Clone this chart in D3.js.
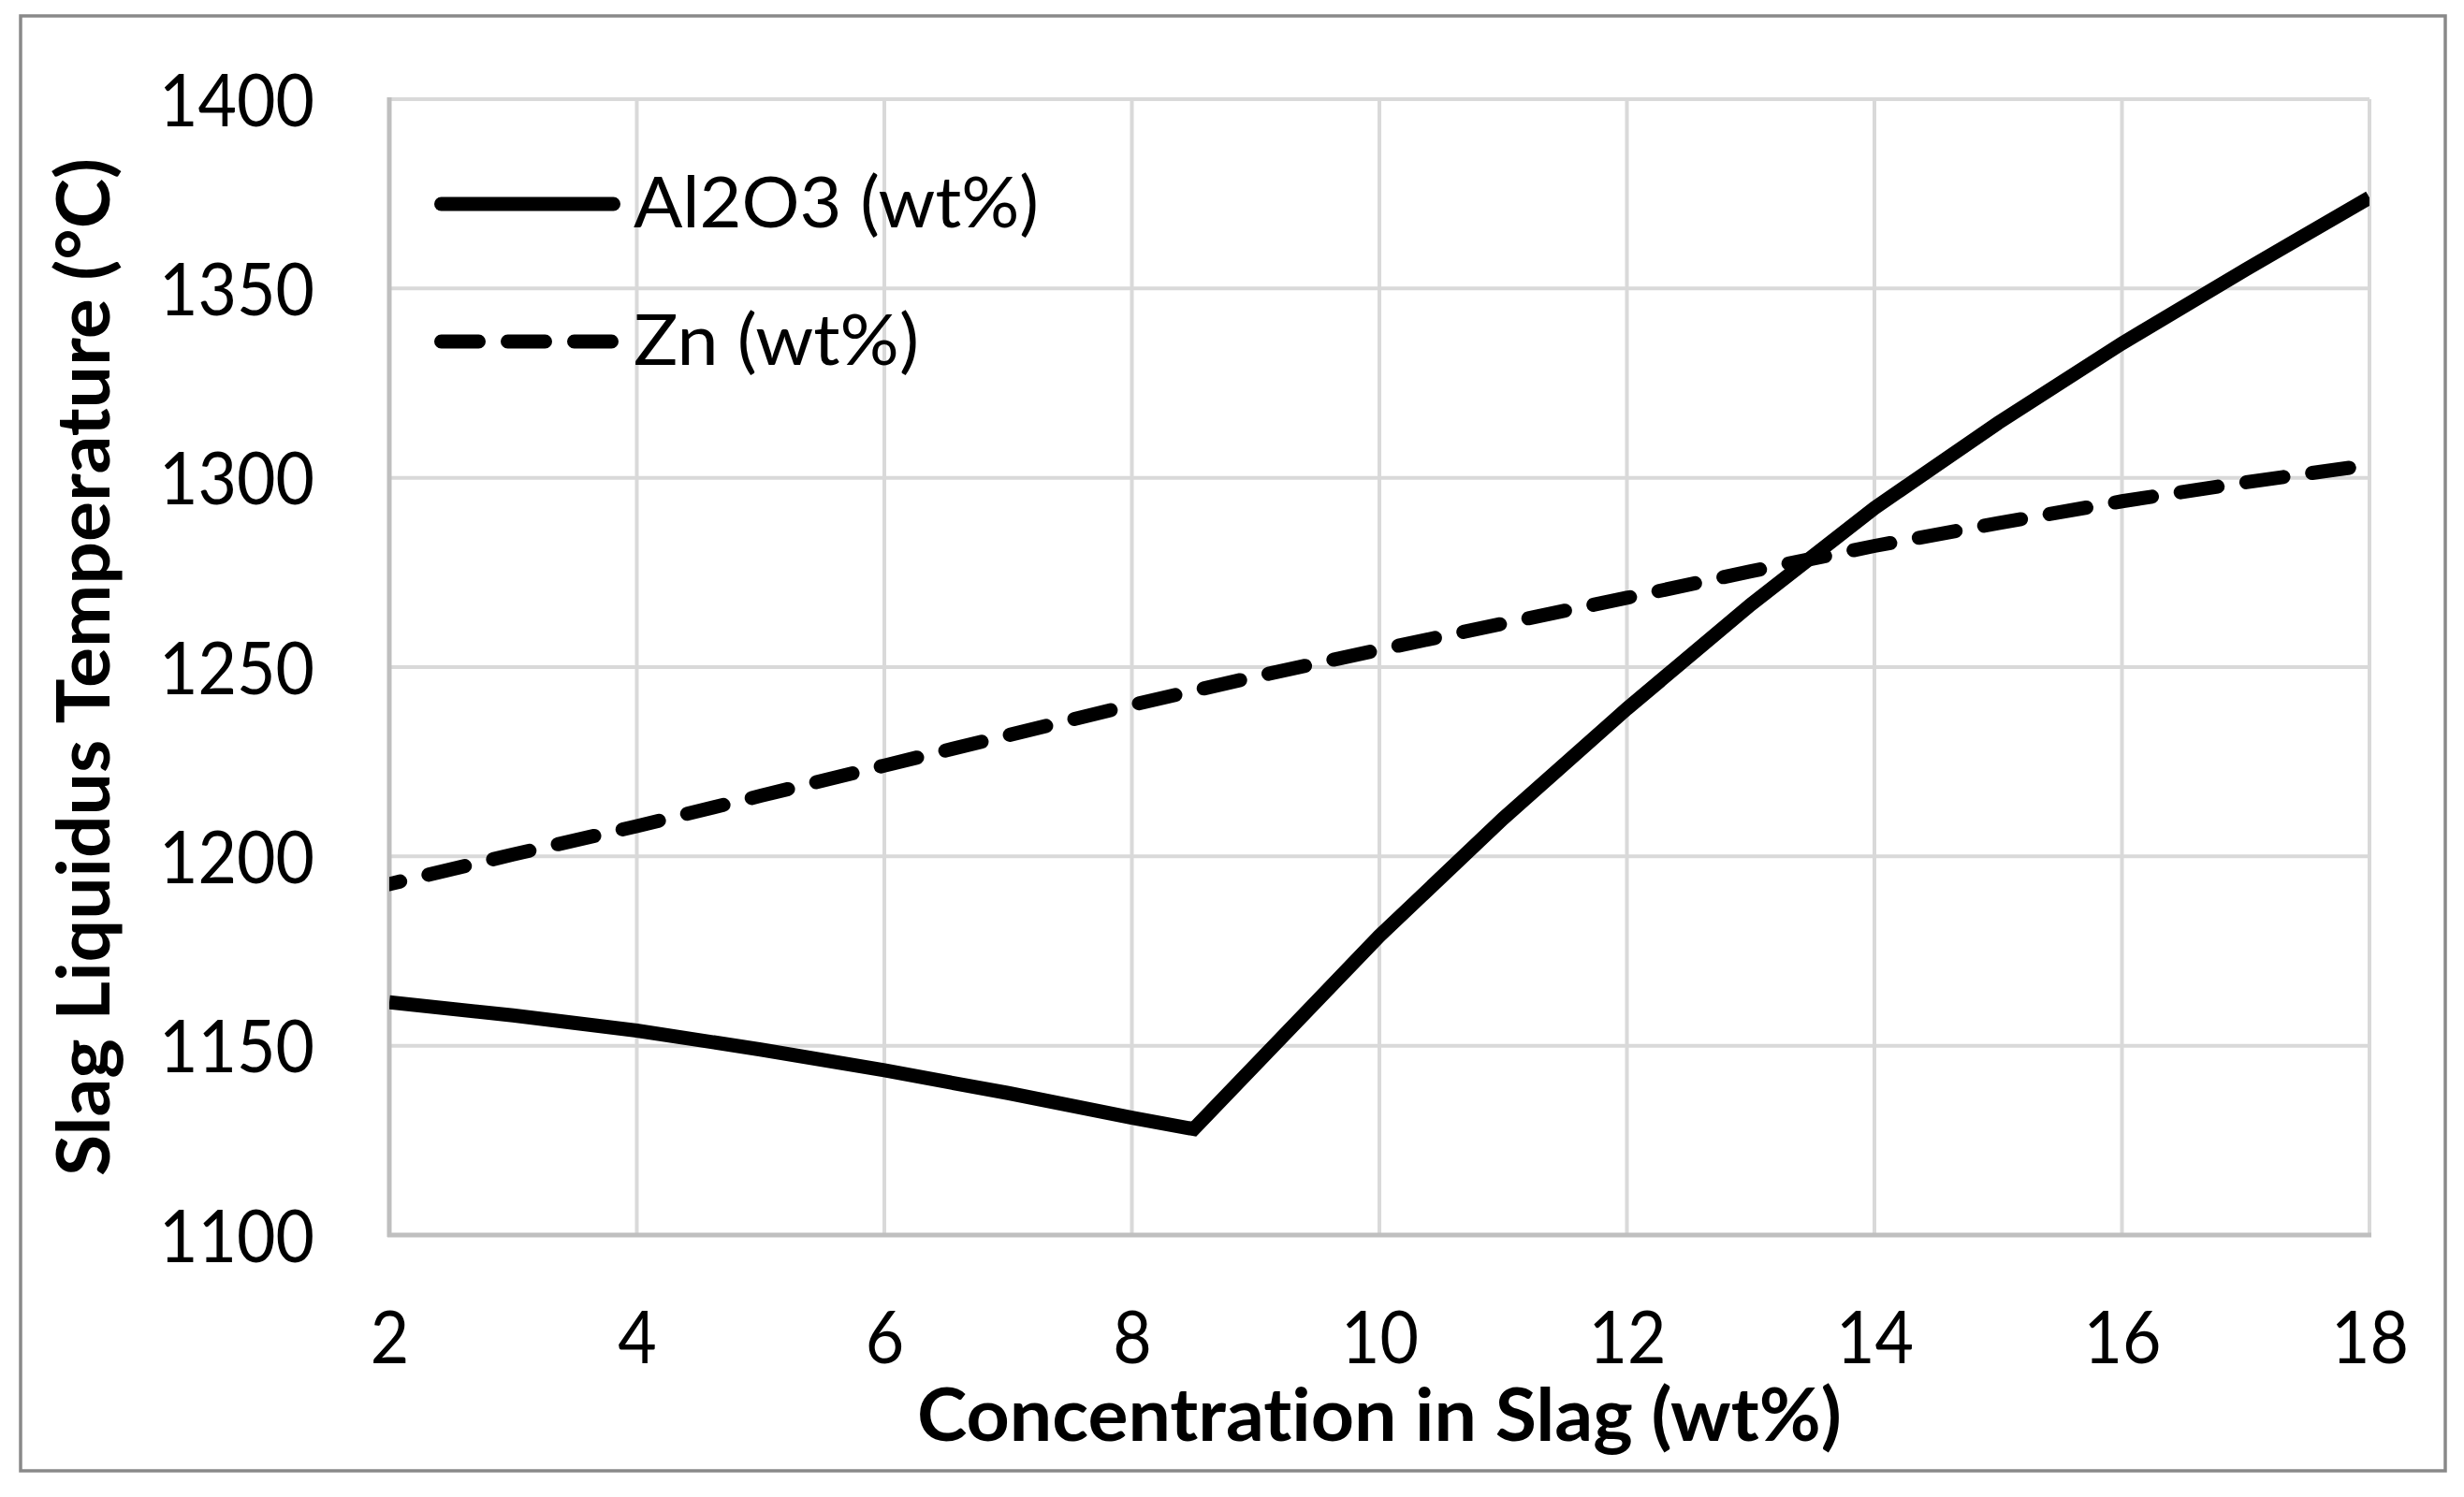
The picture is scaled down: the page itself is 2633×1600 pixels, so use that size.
<!DOCTYPE html>
<html>
<head>
<meta charset="utf-8">
<script src="https://cdn.jsdelivr.net/npm/d3@7/dist/d3.min.js"></script>
<style>
    body { margin: 0; background: #ffffff; }
    svg { display: block; }
    text { font-variant-ligatures: none; }
</style>
</head>
<body>
<svg id="chart" width="2633" height="1600"></svg>
<script>
// concentration (wt%) and liquidus temperature (°C)
const AL2O3_X = [2, 3, 4, 5, 6, 7, 8, 8.5, 9, 9.5, 10, 11, 12, 13, 14, 15, 16, 17, 18];
const AL2O3_T = [1161.5, 1158, 1154, 1149, 1143.5, 1137.5, 1131, 1128, 1145, 1162, 1179, 1210, 1239, 1266.5, 1292, 1314.5, 1335.5, 1355, 1374];
const ZN_X = [2, 3, 4, 5, 6, 7, 8, 9, 10, 11, 12, 13, 14, 15, 16, 17, 18];
const ZN_T = [1192.7, 1200.5, 1208, 1216, 1224, 1232, 1240, 1247.5, 1254.6, 1261.5, 1268.3, 1275.3, 1282, 1288, 1293.8, 1298.8, 1303.4];

const X_TICKS = [2, 4, 6, 8, 10, 12, 14, 16, 18];
const Y_TICKS = [1100, 1150, 1200, 1250, 1300, 1350, 1400];
const SERIES_NAMES = ["Al2O3 (wt%)", "Zn (wt%)"];
const X_TITLE = "Concentration in Slag (wt%)";
const Y_TITLE = "Slag Liquidus Temperature (°C)";

const FONT = "Lato, 'Open Sans', sans-serif";


class LiquidusChart {
    constructor(selector) {
        this.svg = d3.select(selector);
        this.left = 416;
        this.right = 2532;
        this.top = 106;
        this.bottom = 1320;
        this.lineWidth = 15;

        this.initScales();
        this.initFrame();
        this.initGrid();
        this.initAxes();
        this.initLines();
        this.initLegend();
    }

    initScales(){
        this.x = d3.scaleLinear().domain([2, 18]).range([this.left, this.right]);
        this.y = d3.scaleLinear().domain([1100, 1400]).range([this.bottom, this.top]);
    }

    initFrame(){
        // chart area border
        this.svg.append("rect")
            .attr("x", 22).attr("y", 17)
            .attr("width", 2591).attr("height", 1555)
            .attr("fill", "#ffffff")
            .attr("stroke", "#898989")
            .attr("stroke-width", 3.5);
    }

    initGrid(){
        let self = this;
        let grid = this.svg.append("g").attr("class", "grid");

        grid.selectAll("line.h")
            .data(Y_TICKS.filter(d => d !== 1100))
            .enter()
            .append("line")
            .attr("class", "h")
            .attr("x1", this.left).attr("x2", this.right)
            .attr("y1", d => self.y(d)).attr("y2", d => self.y(d))
            .attr("stroke", "#d9d9d9")
            .attr("stroke-width", 4);

        grid.selectAll("line.v")
            .data(X_TICKS.filter(d => d !== 2))
            .enter()
            .append("line")
            .attr("class", "v")
            .attr("y1", this.top).attr("y2", this.bottom)
            .attr("x1", d => self.x(d)).attr("x2", d => self.x(d))
            .attr("stroke", "#d9d9d9")
            .attr("stroke-width", 4);

        // axis lines (darker than the grid)
        grid.append("line")
            .attr("x1", this.left).attr("x2", this.left)
            .attr("y1", this.top - 2).attr("y2", this.bottom + 2)
            .attr("stroke", "#bfbfbf").attr("stroke-width", 5);
        grid.append("line")
            .attr("x1", this.left - 2).attr("x2", this.right + 2)
            .attr("y1", this.bottom).attr("y2", this.bottom)
            .attr("stroke", "#bfbfbf").attr("stroke-width", 5);
    }

    initAxes(){
        let digitWidth = 41.5;

        let yAxis = this.svg.append("g")
            .attr("transform", "translate(" + (this.left - 80) + ",0)")
            .call(d3.axisLeft(this.y).tickValues(Y_TICKS).tickSize(0).tickPadding(0).tickFormat(d3.format("d")));
        yAxis.select(".domain").remove();
        yAxis.selectAll("text")
            .attr("x", 0)
            .attr("dy", "0.36em")
            .attr("font-family", FONT)
            .attr("font-size", 78)
            .attr("fill", "#000000")
            .attr("textLength", d => String(d).length * digitWidth)
            .attr("lengthAdjust", "spacingAndGlyphs");

        let xAxis = this.svg.append("g")
            .attr("transform", "translate(0," + (this.bottom + 137) + ")")
            .call(d3.axisBottom(this.x).tickValues(X_TICKS).tickSize(0).tickPadding(0).tickFormat(d3.format("d")));
        xAxis.select(".domain").remove();
        xAxis.selectAll("text")
            .attr("y", 0)
            .attr("dy", 0)
            .attr("font-family", FONT)
            .attr("font-size", 78)
            .attr("fill", "#000000")
            .attr("textLength", d => String(d).length * digitWidth)
            .attr("lengthAdjust", "spacingAndGlyphs");

        // axis titles
        this.svg.append("text")
            .attr("x", (this.left + this.right) / 2)
            .attr("y", 1540)
            .attr("text-anchor", "middle")
            .attr("font-family", FONT)
            .attr("font-weight", "bold")
            .attr("font-size", 78)
            .attr("textLength", 988)
            .attr("lengthAdjust", "spacingAndGlyphs")
            .text(X_TITLE);

        this.svg.append("text")
            .attr("transform", "translate(117," + ((this.top + this.bottom) / 2) + ") rotate(-90)")
            .attr("text-anchor", "middle")
            .attr("font-family", FONT)
            .attr("font-weight", "bold")
            .attr("font-size", 78)
            .attr("textLength", 1088)
            .attr("lengthAdjust", "spacingAndGlyphs")
            .text(Y_TITLE);
    }

    initLines(){
        let self = this;

        this.svg.append("clipPath")
            .attr("id", "plotClip")
            .append("rect")
            .attr("x", this.left).attr("y", this.top)
            .attr("width", this.right - this.left)
            .attr("height", this.bottom - this.top);

        let line = d3.line()
            .x(d => self.x(d[0]))
            .y(d => self.y(d[1]));

        let alumina = AL2O3_X.map((v, i) => [v, AL2O3_T[i]]);
        let zinc = ZN_X.map((v, i) => [v, ZN_T[i]]);

        let plot = this.svg.append("g").attr("clip-path", "url(#plotClip)");

        plot.append("path")
            .datum(zinc)
            .attr("d", line)
            .attr("fill", "none")
            .attr("stroke", "#000000")
            .attr("stroke-width", this.lineWidth)
            .attr("stroke-linecap", "round")
            .attr("stroke-dasharray", "40 31")
            .attr("stroke-dashoffset", 28);

        plot.append("path")
            .datum(alumina)
            .attr("d", line)
            .attr("fill", "none")
            .attr("stroke", "#000000")
            .attr("stroke-width", this.lineWidth)
            .attr("stroke-linejoin", "miter");
    }

    initLegend(){
        let legend = this.svg.append("g").attr("class", "legend");
        let rows = [
            {name: SERIES_NAMES[0], y: 218, dash: null, width: 433},
            {name: SERIES_NAMES[1], y: 365, dash: "40 31", width: 305}
        ];
        let self = this;

        rows.forEach(function(r){
            legend.append("line")
                .attr("x1", 471.5).attr("x2", 655.5)
                .attr("y1", r.y).attr("y2", r.y)
                .attr("stroke", "#000000")
                .attr("stroke-width", self.lineWidth)
                .attr("stroke-linecap", "round")
                .attr("stroke-dasharray", r.dash);

            legend.append("text")
                .attr("x", 677)
                .attr("y", r.y + 25)
                .attr("font-family", FONT)
                .attr("font-size", 76)
                .attr("textLength", r.width)
                .attr("lengthAdjust", "spacingAndGlyphs")
                .text(r.name);
        });
    }
}

let chart = new LiquidusChart("#chart");
</script>
</body>
</html>
